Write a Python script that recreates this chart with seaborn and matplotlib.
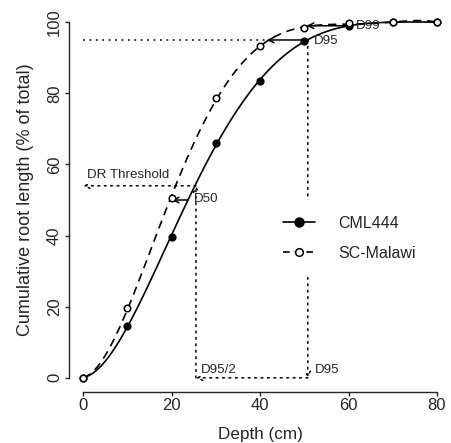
import matplotlib
matplotlib.use("Agg")
import matplotlib.pyplot as plt
import seaborn as sns
import pandas as pd
from matplotlib.lines import Line2D
from matplotlib.legend_handler import HandlerLine2D

# cumulative root length (% of total) by depth
depth = [0, 10, 20, 30, 40, 50, 60, 70, 80]
cml444 = [0, 14.6, 39.6, 66.0, 83.5, 94.6, 99.0, 100.0, 100.0]
sc_malawi = [0, 19.6, 50.5, 78.6, 93.3, 98.3, 99.7, 100.0, 100.0]

# rooting depth markers
dr_threshold = 54.0
d95_cml = 50.8
d95_half = 25.5
d95_sc = 41.5
d50_cml = 23.7
d50_sc = 20.0
d99_cml = 59.5
d99_sc = 50.5


class EndMarker(HandlerLine2D):
    # R style legend key: marker sits at the right end of the line
    def get_xdata(self, legend, xdescent, ydescent, width, height, fontsize):
        xdata, _ = super().get_xdata(legend, xdescent, ydescent, width, height, fontsize)
        return xdata, [xdata[-1]]


sns.set_style("ticks")
plt.rcParams['font.family'] = ['Liberation Sans', 'DejaVu Sans']

df = pd.DataFrame({"depth": depth, "CML444": cml444, "SC-Malawi": sc_malawi})

fig = plt.figure(figsize=(4.52, 4.43), dpi=100)
ax = fig.add_axes([0.1527, 0.115, 0.8453, 0.867])

# fitted curves
sns.regplot(data=df, x="depth", y="CML444", order=5, ci=None, scatter=False,
            color="black", line_kws=dict(lw=1.2), ax=ax)
sns.regplot(data=df, x="depth", y="SC-Malawi", order=5, ci=None, scatter=False,
            color="black", line_kws=dict(lw=1.2, dashes=(5, 3.5)), ax=ax)

# observed points
sns.scatterplot(data=df, x="depth", y="CML444", color="black", edgecolor="black",
                s=26, linewidth=0.8, zorder=4, ax=ax)
sns.scatterplot(data=df, x="depth", y="SC-Malawi", color="white", edgecolor="black",
                s=22, linewidth=1.1, zorder=5, ax=ax)

dot = (0, (1.2, 3.0))
dotted_head = "->,head_length=0.4,head_width=0.2"

# D95 -> D95/2 -> DR threshold chain (dotted arrows)
chain = [((d95_cml, 95), (d95_cml, 0)),
         ((d95_cml, 0), (d95_half, 0)),
         ((d95_half, 0), (d95_half, dr_threshold)),
         ((d95_half, dr_threshold), (0, dr_threshold))]
for start, end in chain:
    ax.annotate("", xy=end, xytext=start,
                arrowprops=dict(arrowstyle=dotted_head, lw=1.1, ls=dot, color="black",
                                shrinkA=0, shrinkB=0, mutation_scale=9))
ax.plot([0, d95_sc], [95, 95], color="black", lw=1.1, ls=dot)

# shifts between the two genotypes
solid_head = "->,head_length=0.45,head_width=0.22"
for x0, x1, yv in [(d50_cml, d50_sc, 50), (d95_cml, d95_sc, 95), (d99_cml, d99_sc, 99)]:
    ax.annotate("", xy=(x1, yv), xytext=(x0, yv),
                arrowprops=dict(arrowstyle=solid_head, lw=1.1, color="black",
                                shrinkA=0, shrinkB=0, mutation_scale=9))

txt = dict(fontsize=9.6, va="center", ha="left")
ax.text(0.8, 57, "DR Threshold", **txt)
ax.text(25.0, 50.3, "D50", **txt)
ax.text(52.2, 94.8, "D95", **txt)
ax.text(61.7, 98.9, "D99", **txt)
ax.text(26.6, 2.3, "D95/2", **txt)
ax.text(52.3, 2.3, "D95", **txt)

handles = [Line2D([], [], color="black", lw=1.2, marker="o", markersize=6.5,
                  markerfacecolor="black", markeredgecolor="black"),
           Line2D([], [], color="black", lw=1.2, dashes=(4, 3), marker="o", markersize=5.5,
                  markerfacecolor="white", markeredgecolor="black", markeredgewidth=1.1)]
leg = ax.legend(handles, ["CML444", "SC-Malawi"], loc="center left",
                bbox_to_anchor=(0.518, 0.40), borderaxespad=0, fontsize=11.5,
                handlelength=2.0, handletextpad=1.45, labelspacing=0.95, borderpad=1.0,
                frameon=True, facecolor="white", edgecolor="none", framealpha=1,
                fancybox=False, handler_map={Line2D: EndMarker()})

ax.set_xlim(-3.2, 83.2)
ax.set_ylim(-4, 104)
ax.set_xticks([0, 20, 40, 60, 80])
ax.set_yticks([0, 20, 40, 60, 80, 100])
ax.spines['left'].set_bounds(0, 100)
ax.spines['bottom'].set_bounds(0, 80)
sns.despine(ax=ax)
for side in ['left', 'bottom']:
    ax.spines[side].set_linewidth(1.0)
ax.tick_params(direction="out", length=3, width=1.0, labelsize=12)
ax.tick_params(axis="x", pad=1.5)
ax.tick_params(axis="y", pad=2)
plt.setp(ax.get_yticklabels(), rotation=90, va="center")

ax.set_xlabel("Depth (cm)", fontsize=12.3, labelpad=10)
ax.set_ylabel("Cumulative root length (% of total)", fontsize=13, labelpad=9.5)

fig.savefig("out.png", dpi=100)
